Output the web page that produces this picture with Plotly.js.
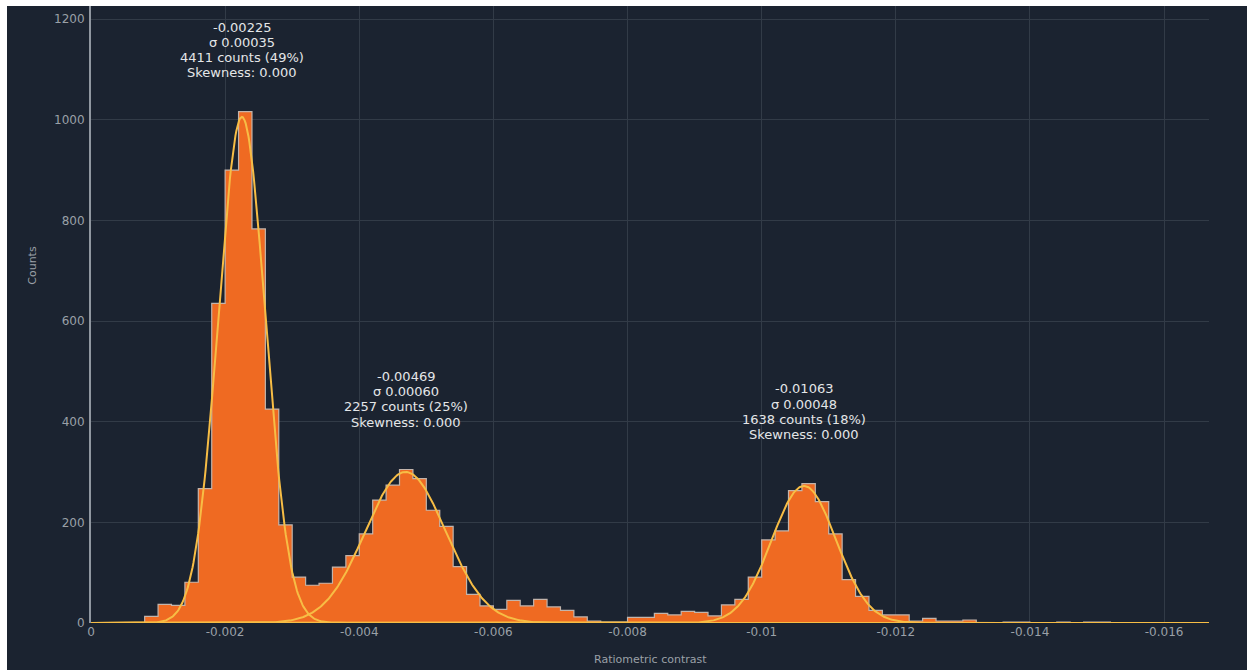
<!DOCTYPE html>
<html>
<head>
<meta charset="utf-8">
<script src="https://cdn.plot.ly/plotly-3.0.1.min.js"></script>
<style>
  html, body { margin: 0; padding: 0; background: #ffffff; width: 1247px; height: 670px; overflow: hidden; }
  #chart { position: absolute; left: 7px; top: 6px; width: 1240px; height: 664px; }
</style>
</head>
<body>
<div id="chart"></div>
<script>
// ---- data ----
const binWidth = 0.0002;          // width of each histogram bin (ratiometric contrast)
// counts per bin, bins running from 0 towards negative contrast: [0,-0.0002], [-0.0002,-0.0004], ...
const counts = [
  0, 0, 0, 0, 13, 37, 35, 81, 267, 635,
  900, 1016, 783, 425, 195, 91, 75, 79, 111, 134,
  177, 244, 274, 305, 287, 224, 192, 112, 57, 34,
  27, 45, 34, 47, 32, 25, 12, 4, 2, 2,
  11, 11, 19, 16, 23, 21, 14, 36, 47, 91,
  165, 183, 263, 277, 241, 177, 86, 53, 25, 16,
  16, 4, 9, 4, 4, 6, 0, 0, 2, 2,
  0, 0, 2, 0, 2, 2, 0, 0, 0, 0,
  0, 0, 0
];
// Gaussian fit parameters shown on the chart
const fitMeans  = [-0.00225, -0.00469, -0.01063];
const fitSigmas = [0.00035, 0.00060, 0.00048];
const fitCounts = [4411, 2257, 1638];
const fitPercents = [49, 25, 18];
const fitSkew = [0.000, 0.000, 0.000];
const labelBase = [1093, 399, 374];   // count level of the last line of each label block

const xTickVals = [0, -0.002, -0.004, -0.006, -0.008, -0.01, -0.012, -0.014, -0.016];
const xTickText = ['0', '-0.002', '-0.004', '-0.006', '-0.008', '-0.01', '-0.012', '-0.014', '-0.016'];
const yTickVals = [0, 200, 400, 600, 800, 1000, 1200];
const yTickText = ['0', '200', '400', '600', '800', '1000', '1200'];

const xMax = -0.01667;

// ---- traces ----
const centers = counts.map((c, i) => -(i + 0.5) * binWidth);

const bars = {
  type: 'bar', x: centers, y: counts, width: binWidth,
  marker: { color: '#ef6a22', line: { width: 0 } },
  hoverinfo: 'skip', showlegend: false
};

// step outline of the histogram
const sx = [], sy = [];
counts.forEach((c, i) => {
  sx.push(-i * binWidth, -(i + 1) * binWidth);
  sy.push(c, c);
});
const outline = {
  type: 'scatter', mode: 'lines', x: [0].concat(sx), y: [0].concat(sy),
  line: { color: '#c2b4ab', width: 1.2 }, hoverinfo: 'skip', showlegend: false
};

// fitted Gaussian curves, drawn from the displayed fit parameters
const curves = fitMeans.map((mu, k) => {
  const s = fitSigmas[k];
  const amp = fitCounts[k] * binWidth / (s * Math.sqrt(2 * Math.PI));
  const xs = [], ys = [];
  const n = 1200;
  for (let j = 0; j <= n; j++) {
    const x = xMax * j / n;
    xs.push(x);
    ys.push(amp * Math.exp(-0.5 * Math.pow((x - mu) / s, 2)));
  }
  return {
    type: 'scatter', mode: 'lines', x: xs, y: ys,
    line: { color: '#f7bd45', width: 2 }, hoverinfo: 'skip', showlegend: false
  };
});

const labelFont = { family: 'DejaVu Sans', size: 13, color: '#e4e6e8' };
const annotations = [];
fitMeans.forEach((mu, k) => {
  const lines = [
    mu.toFixed(5),
    'σ ' + fitSigmas[k].toFixed(5),
    fitCounts[k] + ' counts (' + fitPercents[k] + '%)',
    'Skewness: ' + fitSkew[k].toFixed(3)
  ];
  lines.forEach((t, i) => {
    annotations.push({
      x: mu, y: labelBase[k], xref: 'x', yref: 'y',
      xanchor: 'center', yanchor: 'middle', yshift: (lines.length - 1 - i) * 15.3,
      showarrow: false, text: t, font: labelFont
    });
  });
});
annotations.push({
  text: 'Ratiometric contrast', xref: 'paper', yref: 'paper', x: 0.5, y: 0,
  xanchor: 'center', yanchor: 'top', yshift: -28, showarrow: false,
  font: { family: 'DejaVu Sans', size: 11, color: '#9aa0a7' }
});
annotations.push({
  text: 'Counts', xref: 'paper', yref: 'paper', x: 0, y: 0.579, textangle: -90,
  xanchor: 'center', yanchor: 'middle', xshift: -58, showarrow: false,
  font: { family: 'DejaVu Sans', size: 11, color: '#9aa0a7' }
});

const layout = {
  width: 1240, height: 664,
  margin: { l: 84, r: 38, t: 0, b: 47 },
  paper_bgcolor: '#1b2330', plot_bgcolor: '#1b2330',
  bargap: 0,
  font: { family: 'DejaVu Sans', size: 12, color: '#9aa0a7' },
  xaxis: {
    range: [0, xMax], tickvals: xTickVals, ticktext: xTickText,
    showgrid: true, gridcolor: '#323b47', gridwidth: 1,
    zeroline: false, showline: false, ticks: '',
    tickfont: { family: 'DejaVu Sans', size: 12, color: '#9aa0a7' }
  },
  yaxis: {
    range: [0, 1226], tickvals: yTickVals, ticktext: yTickText,
    showgrid: true, gridcolor: '#323b47', gridwidth: 1,
    zeroline: false, showline: true, linecolor: '#9097a0', linewidth: 2,
    ticks: '', ticklabelstandoff: 2,
    tickfont: { family: 'DejaVu Sans', size: 12, color: '#9aa0a7' }
  },
  annotations: annotations,
  showlegend: false
};

Plotly.newPlot('chart', [bars, outline].concat(curves), layout, { displayModeBar: false, staticPlot: true });
</script>
</body>
</html>
